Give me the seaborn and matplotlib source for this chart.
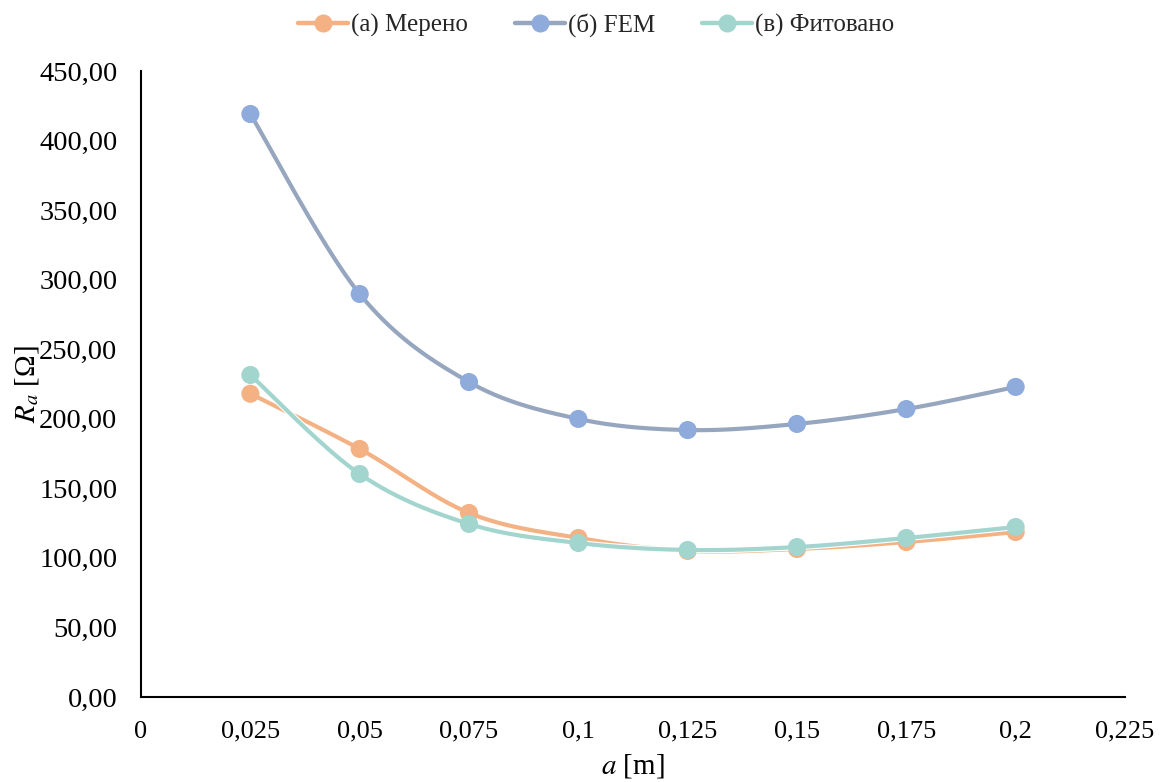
import numpy as np
import pandas as pd
import matplotlib
matplotlib.use("Agg")
import matplotlib.pyplot as plt
import matplotlib.patheffects as pe
from matplotlib.lines import Line2D
from matplotlib.ticker import FuncFormatter, MultipleLocator
import seaborn as sns

# Spacing a [m]
a_values = [0.025, 0.05, 0.075, 0.1, 0.125, 0.15, 0.175, 0.2]

# Apparent resistance R_a [Ω]
measured = [218.0, 178.3, 132.3, 114.3, 105.0, 106.4, 111.4, 118.6]
fem = [419.1, 289.7, 226.4, 199.9, 191.9, 196.3, 207.0, 222.9]
fitted = [231.5, 160.3, 124.4, 110.7, 105.7, 107.8, 114.3, 122.2]

series_names = ["(а) Мерено", "(б) FEM", "(в) Фитовано"]
line_colors = ["#F4B183", "#97A6BF", "#A2D5CE"]
marker_colors = ["#F4B183", "#8EABDC", "#A2D5CE"]

x_ticks = [0, 0.025, 0.05, 0.075, 0.1, 0.125, 0.15, 0.175, 0.2, 0.225]
x_tick_labels = ["0", "0,025", "0,05", "0,075", "0,1", "0,125", "0,15", "0,175", "0,2", "0,225"]


def smooth_curve(x, y, steps=40):
    """Bezier smoothing through the points (spreadsheet-style smoothed line)."""
    x = np.asarray(x, float)
    y = np.asarray(y, float)
    pts = np.column_stack([x, y])
    n = len(pts)
    out = []
    for i in range(n - 1):
        p0 = pts[i - 1] if i > 0 else pts[i]
        p1 = pts[i]
        p2 = pts[i + 1]
        p3 = pts[i + 2] if i + 2 < n else pts[i + 1]
        c1 = p1 + (p2 - p0) / 6.0
        c2 = p2 - (p3 - p1) / 6.0
        t = np.linspace(0, 1, steps, endpoint=(i == n - 2))[:, None]
        seg = ((1 - t) ** 3) * p1 + 3 * ((1 - t) ** 2) * t * c1 + 3 * (1 - t) * t ** 2 * c2 + t ** 3 * p2
        out.append(seg)
    out = np.vstack(out)
    return out[:, 0], out[:, 1]


sns.set_theme(style="white")
plt.rcParams["font.family"] = ["Liberation Serif", "DejaVu Serif"]
plt.rcParams["mathtext.fontset"] = "stix"

fig = plt.figure(figsize=(11.6, 7.82), dpi=100)
ax = fig.add_axes([0.1216, 0.1087, 0.8482, 0.8005])

all_series = [measured, fem, fitted]
for k, (name, vals) in enumerate(zip(series_names, all_series)):
    sx, sy = smooth_curve(a_values, vals)
    curve = pd.DataFrame({"a": sx, "R": sy})
    sns.lineplot(data=curve, x="a", y="R", ax=ax, color=line_colors[k], linewidth=3.0,
                 sort=False, estimator=None, zorder=2 + k,
                 path_effects=[pe.Stroke(linewidth=4.6, foreground="white"), pe.Normal()])
    pts = pd.DataFrame({"a": a_values, "R": vals})
    sns.scatterplot(data=pts, x="a", y="R", ax=ax, color=marker_colors[k], s=170,
                    edgecolor="none", linewidth=0, zorder=2.5 + k)

ax.set_xlim(0, 0.225)
ax.set_ylim(0, 450)
ax.set_xticks(x_ticks)
ax.set_xticklabels(x_tick_labels, fontsize=19)
ax.yaxis.set_major_locator(MultipleLocator(50))
ax.yaxis.set_major_formatter(FuncFormatter(lambda v, p: f"{v:.2f}".replace(".", ",")))
ax.tick_params(axis="y", labelsize=20.5, length=0, pad=17)
ax.tick_params(axis="x", length=0, pad=17)
for lab in ax.get_yticklabels() + ax.get_xticklabels():
    lab.set_color("black")

ax.set_xlabel(r"$a$ [m]", fontsize=21, color="black")
ax.set_ylabel(r"$R_a$ [Ω]", fontsize=21, color="black")
ax.xaxis.set_label_coords(0.5, -0.088)
ax.yaxis.set_label_coords(-0.102, 0.5)

for side in ["top", "right"]:
    ax.spines[side].set_visible(False)
for side in ["left", "bottom"]:
    ax.spines[side].set_color("black")
    ax.spines[side].set_linewidth(1.5)
ax.grid(False)

handles = [Line2D([0], [0], color=line_colors[k], linewidth=3.2, marker="o",
                  markersize=13, markerfacecolor=marker_colors[k], markeredgewidth=0)
           for k in range(3)]
fig.legend(handles, series_names, loc="upper center", bbox_to_anchor=(0.514, 1.012),
           ncol=3, frameon=False, fontsize=18, handlelength=2.0, handletextpad=0.1,
           columnspacing=1.9)

fig.savefig("out.png", dpi=100, facecolor="white")
